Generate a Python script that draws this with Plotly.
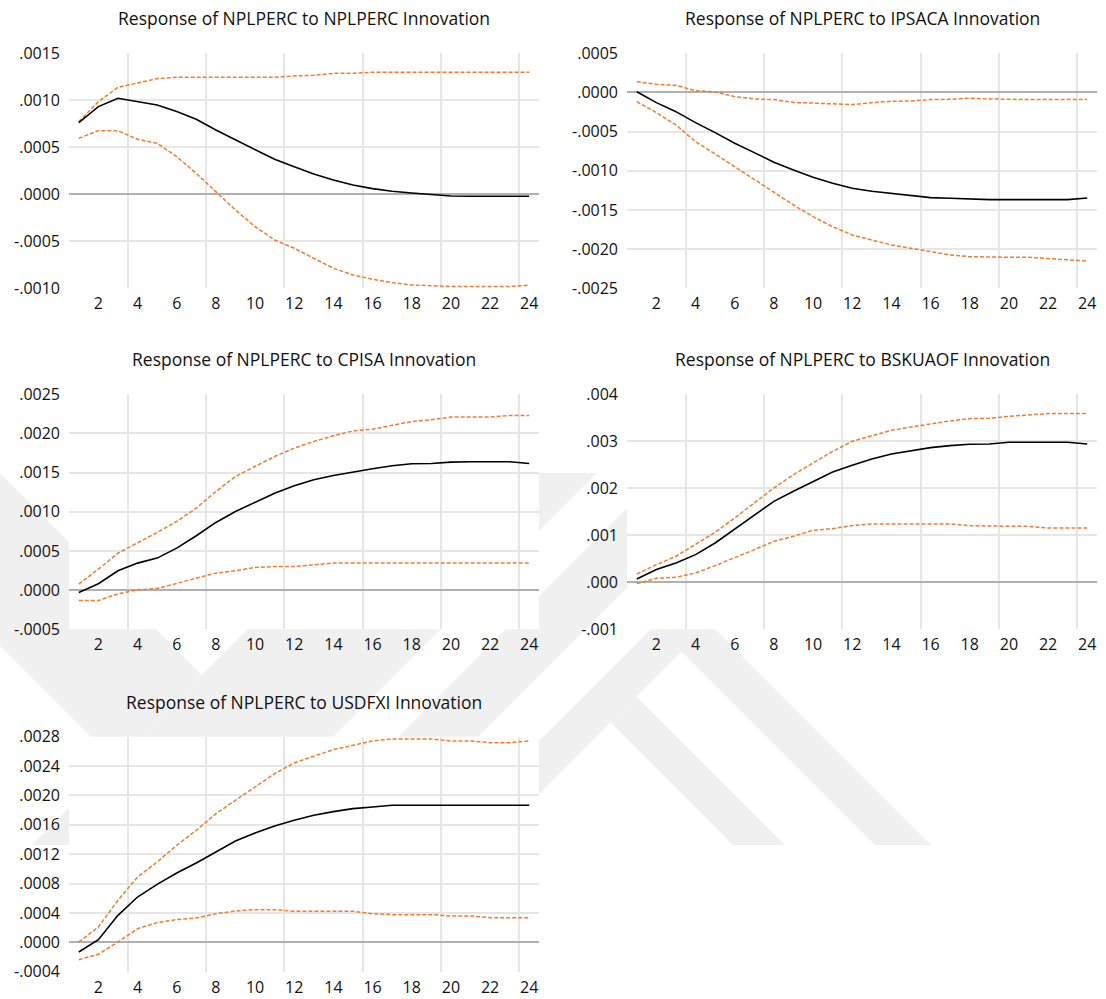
import plotly.graph_objects as go

# Forecast horizon (periods after the shock)
periods = list(range(1, 25))

# Response of NPLPERC to each innovation: point estimate and +/- 2 S.E. bands
resp_nplperc = [0.000762, 0.000933, 0.001021, 0.000986, 0.000950, 0.000880, 0.000798, 0.000684,
                0.000578, 0.000472, 0.000372, 0.000294, 0.000216, 0.000152, 0.000099, 0.000060,
                0.000032, 0.000014, 0.000000, -0.000018, -0.000020, -0.000020, -0.000020, -0.000020]
upper_nplperc = [0.000773, 0.000986, 0.001138, 0.001188, 0.001230, 0.001245, 0.001245, 0.001245,
                 0.001245, 0.001245, 0.001245, 0.001259, 0.001266, 0.001287, 0.001287, 0.001298,
                 0.001298, 0.001298, 0.001298, 0.001298, 0.001298, 0.001298, 0.001298, 0.001298]
lower_nplperc = [0.000596, 0.000677, 0.000677, 0.000585, 0.000543, 0.000400, 0.000223, 0.000028,
                 -0.000167, -0.000344, -0.000486, -0.000574, -0.000681, -0.000787, -0.000858, -0.000904,
                 -0.000940, -0.000965, -0.000972, -0.000982, -0.000982, -0.000982, -0.000982, -0.000965]

resp_ipsaca = [0.000010, -0.000130, -0.000245, -0.000385, -0.000513, -0.000649, -0.000768, -0.000891,
               -0.000989, -0.001083, -0.001160, -0.001223, -0.001262, -0.001287, -0.001321, -0.001343,
               -0.001351, -0.001364, -0.001368, -0.001368, -0.001368, -0.001368, -0.001368, -0.001347]
upper_ipsaca = [0.000138, 0.000104, 0.000091, 0.000023, 0.000006, -0.000053, -0.000083, -0.000091,
                -0.000126, -0.000134, -0.000138, -0.000155, -0.000130, -0.000113, -0.000109, -0.000091,
                -0.000087, -0.000074, -0.000083, -0.000091, -0.000091, -0.000091, -0.000091, -0.000091]
lower_ipsaca = [-0.000117, -0.000257, -0.000415, -0.000628, -0.000785, -0.000947, -0.001117, -0.001279,
                -0.001436, -0.001585, -0.001713, -0.001819, -0.001883, -0.001947, -0.001989, -0.002032,
                -0.002074, -0.002096, -0.002104, -0.002104, -0.002104, -0.002121, -0.002138, -0.002151]

resp_cpisa = [-0.000030, 0.000081, 0.000247, 0.000345, 0.000409, 0.000536, 0.000694, 0.000864,
              0.001004, 0.001123, 0.001238, 0.001332, 0.001409, 0.001464, 0.001511, 0.001549,
              0.001587, 0.001613, 0.001617, 0.001634, 0.001638, 0.001638, 0.001638, 0.001617]
upper_cpisa = [0.000077, 0.000268, 0.000472, 0.000600, 0.000736, 0.000877, 0.001047, 0.001260,
               0.001451, 0.001579, 0.001706, 0.001813, 0.001898, 0.001970, 0.002034, 0.002055,
               0.002102, 0.002153, 0.002174, 0.002209, 0.002209, 0.002209, 0.002230, 0.002230]
lower_cpisa = [-0.000132, -0.000132, -0.000047, 0.000004, 0.000021, 0.000089, 0.000153, 0.000217,
               0.000247, 0.000289, 0.000302, 0.000302, 0.000323, 0.000345, 0.000345, 0.000345,
               0.000345, 0.000345, 0.000345, 0.000345, 0.000345, 0.000345, 0.000345, 0.000345]

resp_bskuaof = [0.000071, 0.000270, 0.000411, 0.000589, 0.000837, 0.001135, 0.001440, 0.001723,
                0.001936, 0.002149, 0.002348, 0.002489, 0.002624, 0.002730, 0.002801, 0.002865,
                0.002908, 0.002936, 0.002943, 0.002979, 0.002979, 0.002979, 0.002979, 0.002943]
upper_bskuaof = [0.000177, 0.000376, 0.000553, 0.000801, 0.001064, 0.001369, 0.001688, 0.002007,
                 0.002291, 0.002539, 0.002787, 0.003000, 0.003121, 0.003234, 0.003305, 0.003376,
                 0.003433, 0.003482, 0.003489, 0.003532, 0.003560, 0.003589, 0.003589, 0.003589]
lower_bskuaof = [-0.000028, 0.000085, 0.000106, 0.000199, 0.000355, 0.000518, 0.000695, 0.000872,
                 0.000979, 0.001106, 0.001142, 0.001206, 0.001241, 0.001241, 0.001241, 0.001241,
                 0.001241, 0.001206, 0.001191, 0.001191, 0.001191, 0.001156, 0.001156, 0.001156]

resp_usdfxi = [-0.000132, 0.000036, 0.000368, 0.000617, 0.000790, 0.000944, 0.001081, 0.001230,
               0.001380, 0.001489, 0.001585, 0.001662, 0.001730, 0.001780, 0.001821, 0.001843,
               0.001866, 0.001866, 0.001866, 0.001866, 0.001866, 0.001866, 0.001866, 0.001866]
upper_usdfxi = [0.000005, 0.000209, 0.000572, 0.000890, 0.001094, 0.001321, 0.001526, 0.001752,
                0.001934, 0.002116, 0.002297, 0.002443, 0.002533, 0.002624, 0.002683, 0.002742,
                0.002770, 0.002770, 0.002770, 0.002742, 0.002742, 0.002719, 0.002719, 0.002742]
lower_usdfxi = [-0.000236, -0.000163, 0.000005, 0.000186, 0.000268, 0.000309, 0.000331, 0.000390,
                0.000427, 0.000445, 0.000445, 0.000422, 0.000422, 0.000422, 0.000422, 0.000390,
                0.000377, 0.000377, 0.000377, 0.000359, 0.000359, 0.000336, 0.000336, 0.000336]

# Horizontal-axis labels
x_tickvals = list(range(2, 25, 2))
x_ticktext = [str(v) for v in x_tickvals]
x_gridvals = [3.5, 7.5, 11.5, 15.5, 19.5, 23.5]

# Vertical-axis ticks and labels per panel
yticks_nplperc = [-0.0010, -0.0005, 0.0, 0.0005, 0.0010, 0.0015]
ylabels_nplperc = ["-.0010", "-.0005", ".0000", ".0005", ".0010", ".0015"]
yticks_ipsaca = [-0.0025, -0.0020, -0.0015, -0.0010, -0.0005, 0.0, 0.0005]
ylabels_ipsaca = ["-.0025", "-.0020", "-.0015", "-.0010", "-.0005", ".0000", ".0005"]
yticks_cpisa = [-0.0005, 0.0, 0.0005, 0.0010, 0.0015, 0.0020, 0.0025]
ylabels_cpisa = ["-.0005", ".0000", ".0005", ".0010", ".0015", ".0020", ".0025"]
yticks_bskuaof = [-0.001, 0.0, 0.001, 0.002, 0.003, 0.004]
ylabels_bskuaof = ["-.001", ".000", ".001", ".002", ".003", ".004"]
yticks_usdfxi = [-0.0004, 0.0, 0.0004, 0.0008, 0.0012, 0.0016, 0.0020, 0.0024, 0.0028]
ylabels_usdfxi = ["-.0004", ".0000", ".0004", ".0008", ".0012", ".0016", ".0020", ".0024", ".0028"]

panels = [
    ("Response of NPLPERC to NPLPERC Innovation", resp_nplperc, upper_nplperc, lower_nplperc,
     yticks_nplperc, ylabels_nplperc),
    ("Response of NPLPERC to IPSACA Innovation", resp_ipsaca, upper_ipsaca, lower_ipsaca,
     yticks_ipsaca, ylabels_ipsaca),
    ("Response of NPLPERC to CPISA Innovation", resp_cpisa, upper_cpisa, lower_cpisa,
     yticks_cpisa, ylabels_cpisa),
    ("Response of NPLPERC to BSKUAOF Innovation", resp_bskuaof, upper_bskuaof, lower_bskuaof,
     yticks_bskuaof, ylabels_bskuaof),
    ("Response of NPLPERC to USDFXI Innovation", resp_usdfxi, upper_usdfxi, lower_usdfxi,
     yticks_usdfxi, ylabels_usdfxi),
]

W, H = 1106, 999
FONT = "Open Sans"
TEXT = "#111111"
GRID = "#e6e6e6"
ZERO = "#b0b0b0"
ORANGE = "#ED7D31"
MARK = "#f0f0f0"

# Plot-area boxes in pixels: (left, right) per column, (top, bottom) per row
col_px = [(69, 539), (627, 1097)]
row_px = [(53.3, 288.3), (394.3, 629.3), (736.7, 971.7)]


def px_x(x):
    return x / W


def px_y(y):
    return 1 - y / H


fig = go.Figure()
annotations = []
layout_axes = {}

for i, (title, resp, up, lo, yt, yl) in enumerate(panels):
    r, c = divmod(i, 2)
    n = i + 1
    xa = "x" if n == 1 else f"x{n}"
    ya = "y" if n == 1 else f"y{n}"
    left, right = col_px[c]
    top, bottom = row_px[r]

    fig.add_trace(go.Scatter(x=periods, y=up, mode="lines", xaxis=xa, yaxis=ya,
                             line=dict(color=ORANGE, width=1.5, dash="4px,2px"),
                             showlegend=False, hoverinfo="skip"))
    fig.add_trace(go.Scatter(x=periods, y=lo, mode="lines", xaxis=xa, yaxis=ya,
                             line=dict(color=ORANGE, width=1.5, dash="4px,2px"),
                             showlegend=False, hoverinfo="skip"))
    fig.add_trace(go.Scatter(x=periods, y=resp, mode="lines", xaxis=xa, yaxis=ya,
                             line=dict(color="#000000", width=1.6),
                             showlegend=False, hoverinfo="skip"))

    xkey = "xaxis" if n == 1 else f"xaxis{n}"
    ykey = "yaxis" if n == 1 else f"yaxis{n}"
    layout_axes[xkey] = dict(
        domain=[px_x(left), px_x(right)], anchor=ya, range=[0.5, 24.5],
        tickmode="array", tickvals=x_tickvals, ticktext=x_ticktext,
        showgrid=False, zeroline=False, showline=False, ticks="",
        ticklabelstandoff=4, automargin=False,
        tickfont=dict(family=FONT, size=16, color=TEXT),
        minor=dict(tickmode="array", tickvals=x_gridvals, showgrid=True,
                   gridcolor=GRID, gridwidth=1.5, ticks=""),
        fixedrange=True,
    )
    layout_axes[ykey] = dict(
        domain=[px_y(bottom), px_y(top)], anchor=xa, range=[yt[0], yt[-1]],
        tickmode="array", tickvals=yt, ticktext=yl,
        showgrid=False, zeroline=True, zerolinecolor=ZERO, zerolinewidth=2,
        showline=False, ticks="", ticklabelstandoff=8, automargin=False,
        tickfont=dict(family=FONT, size=16, color=TEXT),
        minor=dict(tickmode="array", tickvals=[v for v in yt[1:-1] if v != 0],
                   showgrid=True, gridcolor=GRID, gridwidth=1.5, ticks=""),
        fixedrange=True,
    )
    annotations.append(dict(
        text=title, x=px_x((left + right) / 2), y=px_y(top - 35),
        xref="paper", yref="paper", xanchor="center", yanchor="middle",
        showarrow=False, font=dict(family=FONT, size=17.5, color=TEXT),
    ))

# Faint background emblem, drawn in pixel space and clipped to a horizontal strip
emblem = [
    [(-173, 473), (0, 473), (202, 675), (115.5, 761.5)],
    [(404, 473), (597, 473), (225, 845), (32, 845)],
    [(662, 473), (742, 473), (370, 845), (290, 845)],
    [(807, 473), (860, 473), (488, 845), (435, 845)],
    [(683, 597), (931, 845), (875, 845), (681.5, 651.5)],
    [(636.5, 696.5), (785, 845), (733, 845), (610.5, 722.5)],
]
shapes = []
for poly in emblem:
    path = "M " + " L ".join(f"{px_x(x):.5f},{px_y(y):.5f}" for x, y in poly) + " Z"
    shapes.append(dict(type="path", path=path, xref="paper", yref="paper",
                       fillcolor=MARK, line=dict(width=0), layer="below"))

# Opaque white plot areas sit over the emblem
for n in range(1, len(panels) + 1):
    sfx = "" if n == 1 else str(n)
    shapes.append(dict(type="rect", xref=f"x{sfx} domain", yref=f"y{sfx} domain",
                       x0=0, x1=1, y0=0, y1=1, fillcolor="white",
                       line=dict(width=0), layer="below"))

fig.update_layout(
    width=W, height=H, autosize=False,
    margin=dict(l=0, r=0, t=0, b=0, pad=0),
    paper_bgcolor="white", plot_bgcolor="white",
    annotations=annotations, shapes=shapes,
    showlegend=False,
    **layout_axes,
)

fig.write_html("out.html", config={"displayModeBar": False})
